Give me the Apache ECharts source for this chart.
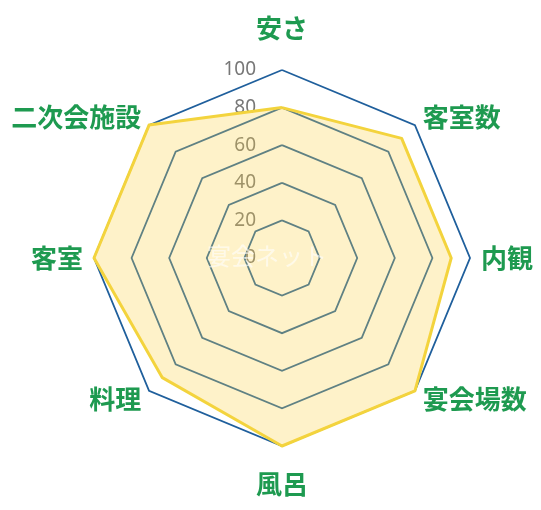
<!DOCTYPE html>
<html>
<head>
<meta charset="utf-8">
<script src="https://cdn.jsdelivr.net/npm/echarts@6/dist/echarts.min.js"></script>
<style>
html,body{margin:0;padding:0;background:#fff;}
#c{width:541px;height:510px;}
</style>
</head>
<body>
<div id="c"></div>
<script>
// clockwise from top
const categories = ['安さ', '客室数', '内観', '宴会場数', '風呂', '料理', '客室', '二次会施設'];
const values = [80, 90, 90, 100, 100, 90, 100, 100];
const tickLabels = [0, 20, 40, 60, 80, 100];
const maxValue = 100;
const watermark = '宴会ネット';

// ECharts radar runs counter-clockwise: keep first, reverse the rest
const toCCW = arr => [arr[0]].concat(arr.slice(1).reverse());
const indCats = toCCW(categories);
const indVals = toCCW(values);

const chart = echarts.init(document.getElementById('c'));
const cx = 282, cy = 258, R = 188;
const nameFont = { color: '#1e9a50', fontSize: 26, fontFamily: 'Noto Sans CJK JP', fontWeight: 'bold' };
const option = {
  animation: false,
  radar: {
    center: [cx, cy],
    radius: R,
    startAngle: 90,
    splitNumber: tickLabels.length - 1,
    shape: 'polygon',
    indicator: indCats.map(n => ({ name: n, max: maxValue, min: 0 })),
    nameGap: 11,
    axisName: Object.assign({}, nameFont, {
      formatter: function (name) {
        if (name === categories[0]) return '{t|' + name + '}';
        if (name === categories[4]) return '{b|' + name + '}';
        return name;
      },
      rich: {
        t: Object.assign({}, nameFont, { padding: [0, 0, 18, 0] }),
        b: Object.assign({}, nameFont, { padding: [14, 0, 0, 0] })
      }
    }),
    axisLine: { show: false },
    axisTick: { show: false },
    axisLabel: { show: false },
    splitArea: { show: false },
    splitLine: {
      lineStyle: { width: 1.8, color: '#1f5f9c' }
    }
  },
  grid: { left: cx, top: cy - R, width: 1, height: R },
  xAxis: { type: 'value', show: false },
  yAxis: {
    type: 'value', min: tickLabels[0], max: tickLabels[tickLabels.length - 1], interval: 20,
    axisLine: { show: false }, axisTick: { show: false }, splitLine: { show: false },
    axisLabel: { margin: 26, fontSize: 19, color: '#777', fontFamily: 'Noto Sans' }
  },
  graphic: [{
    type: 'text', left: 207, top: 244, silent: true, z: 100,
    style: { text: watermark, fontSize: 24, fontFamily: 'Noto Sans CJK JP', fill: 'rgba(255,255,255,0.6)' }
  }],
  series: [{
    type: 'radar',
    symbol: 'none',
    lineStyle: { color: '#f2d43c', width: 3 },
    areaStyle: { color: 'rgba(250,210,70,0.42)' },
    data: [{ value: indVals }]
  }]
};
chart.setOption(option);
</script>
</body>
</html>
